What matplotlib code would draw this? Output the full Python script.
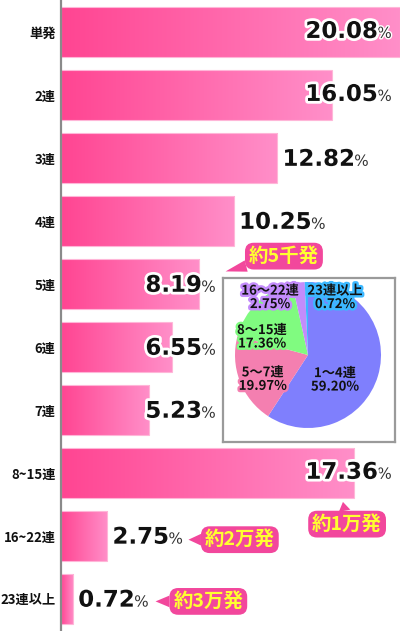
import numpy as np
import matplotlib

matplotlib.use("Agg")
import matplotlib.pyplot as plt
import matplotlib.patheffects as pe
from matplotlib.colors import LinearSegmentedColormap

plt.rcParams["font.family"] = ["Noto Sans CJK JP", "DejaVu Sans"]

# bar chart data
CATEGORIES = ["単発", "2連", "3連", "4連", "5連", "6連", "7連", "8~15連", "16~22連", "23連以上"]
SHARES = [20.08, 16.05, 12.82, 10.25, 8.19, 6.55, 5.23, 17.36, 2.75, 0.72]
VALUE_TEXT = ["20.08", "16.05", "12.82", "10.25", "8.19", "6.55", "5.23", "17.36", "2.75", "0.72"]

# callouts: text, bar index
CALLOUT_TEXT = ["約5千発", "約1万発", "約2万発", "約3万発"]
CALLOUT_BAR = [4, 7, 8, 9]

# pie inset data
PIE_LABELS = ["1～4連", "5～7連", "8～15連", "16～22連", "23連以上"]
PIE_SHARES = [59.20, 19.97, 17.36, 2.75, 0.72]
PIE_COLORS = ["#7f7ffd", "#f47fb0", "#80fb80", "#c38cfb", "#3cb8ff"]

W, H = 400, 631
BAR_LEFT = "#ff4592"
BAR_RIGHT = "#ff8fc9"
CALLOUT_BG = "#f2479c"
CALLOUT_FG = "#ffff30"

fig = plt.figure(figsize=(W / 100, H / 100), dpi=100)
ax = fig.add_axes([61 / W, 0, 339 / W, 1])

y = np.arange(len(CATEGORIES))
bars = ax.barh(y, SHARES, height=0.8, facecolor="none", edgecolor="#ffb6d8", linewidth=0.8, zorder=2)

grad_cmap = LinearSegmentedColormap.from_list("pinkgrad", [BAR_LEFT, BAR_RIGHT])
gradient = np.linspace(0, 1, 256).reshape(1, -1)
for bar in bars:
    x0, y0 = bar.get_x(), bar.get_y()
    im = ax.imshow(gradient, cmap=grad_cmap, aspect="auto", zorder=1,
                   extent=(x0, x0 + bar.get_width(), y0 + bar.get_height(), y0))
    im.set_clip_path(bar)
ax.set_xlim(0, max(SHARES))
ax.set_ylim(len(CATEGORIES) - 0.49, -0.51)

for side in ["top", "right", "bottom"]:
    ax.spines[side].set_visible(False)
ax.spines["left"].set_color("#8a8a8a")
ax.spines["left"].set_linewidth(1.6)
ax.set_xticks([])
ax.set_yticks(y)
ax.set_yticklabels(CATEGORIES, fontsize=9.5, fontweight="bold", color="#111111")
ax.tick_params(axis="y", length=0, pad=4)

# value labels: number + small percent sign
stroke = [pe.Stroke(linewidth=4, foreground="white"), pe.Normal()]
thin_stroke = [pe.Stroke(linewidth=2, foreground="white"), pe.Normal()]
for i, (share, txt) in enumerate(zip(SHARES, VALUE_TEXT)):
    if share >= 16:
        pct = ax.text(max(SHARES) * 0.976, i + 0.02, "%", ha="right", va="center",
                      fontsize=11, color="#333333", family="DejaVu Sans",
                      path_effects=thin_stroke, zorder=5)
        ax.annotate(txt, xy=(0, 0), xycoords=pct, ha="right", va="bottom",
                    xytext=(0.5, -1.5), textcoords="offset points",
                    fontsize=16.5, fontweight="bold", color="#111111",
                    family="DejaVu Sans", path_effects=stroke, zorder=5)
    else:
        x = 5.0 if 5 <= share < 9 else share + 0.3
        num = ax.text(x, i + 0.02, txt, ha="left", va="center",
                      fontsize=16.5, fontweight="bold", color="#111111",
                      family="DejaVu Sans", path_effects=stroke, zorder=5)
        ax.annotate("%", xy=(1, 0), xycoords=num, ha="left", va="bottom",
                    xytext=(-0.5, 1.5), textcoords="offset points",
                    fontsize=11, color="#333333", family="DejaVu Sans",
                    path_effects=thin_stroke, zorder=5)

# callouts with pointer
CALLOUT_TIP = [(9.75, 3.80), (16.7, 7.46), (7.55, 8.06), (5.6, 9.04)]
CALLOUT_OFFSET = [(42, 11), (3, -16), (37, 0), (38, 0)]
for text, idx, tip, off in zip(CALLOUT_TEXT, CALLOUT_BAR, CALLOUT_TIP, CALLOUT_OFFSET):
    ax.annotate(text, xy=tip, xytext=off, textcoords="offset points",
                ha="center", va="center", fontsize=14, fontweight="bold",
                color=CALLOUT_FG, zorder=6,
                bbox=dict(boxstyle="round,pad=0.2,rounding_size=0.45", fc=CALLOUT_BG, ec="none"),
                arrowprops=dict(arrowstyle="wedge,tail_width=0.6", fc=CALLOUT_BG, ec="none",
                                shrinkA=0, shrinkB=0))

# pie inset
box = fig.add_axes([223 / W, 1 - 442 / H, 172 / W, 164 / H], zorder=10)
box.set_xticks([])
box.set_yticks([])
for s in box.spines.values():
    s.set_color("#9a9a9a")
    s.set_linewidth(1.6)

pie_ax = fig.add_axes([235 / W, 1 - 428 / H, 146 / W, 146 / H], zorder=11)
pie_ax.pie(PIE_SHARES, colors=PIE_COLORS, startangle=90, counterclock=False,
           wedgeprops=dict(linewidth=0))
pie_ax.set_xlim(-1.0, 1.0)
pie_ax.set_ylim(-1.0, 1.0)
pie_ax.set_aspect("equal")
pie_ax.axis("off")

PIE_TEXT_POS = [(0.37, -0.34), (-0.62, -0.33), (-0.63, 0.25), (-0.52, 0.79), (0.37, 0.79)]
for label, share, color, pos in zip(PIE_LABELS, PIE_SHARES, PIE_COLORS, PIE_TEXT_POS):
    pie_ax.text(pos[0], pos[1], f"{label}\n{share:.2f}%", ha="center", va="center",
                fontsize=9.5, fontweight="bold", color="#111111", linespacing=0.95,
                path_effects=[pe.Stroke(linewidth=3.5, foreground=color), pe.Normal()],
                clip_on=False)

fig.savefig("out.png", dpi=100)
